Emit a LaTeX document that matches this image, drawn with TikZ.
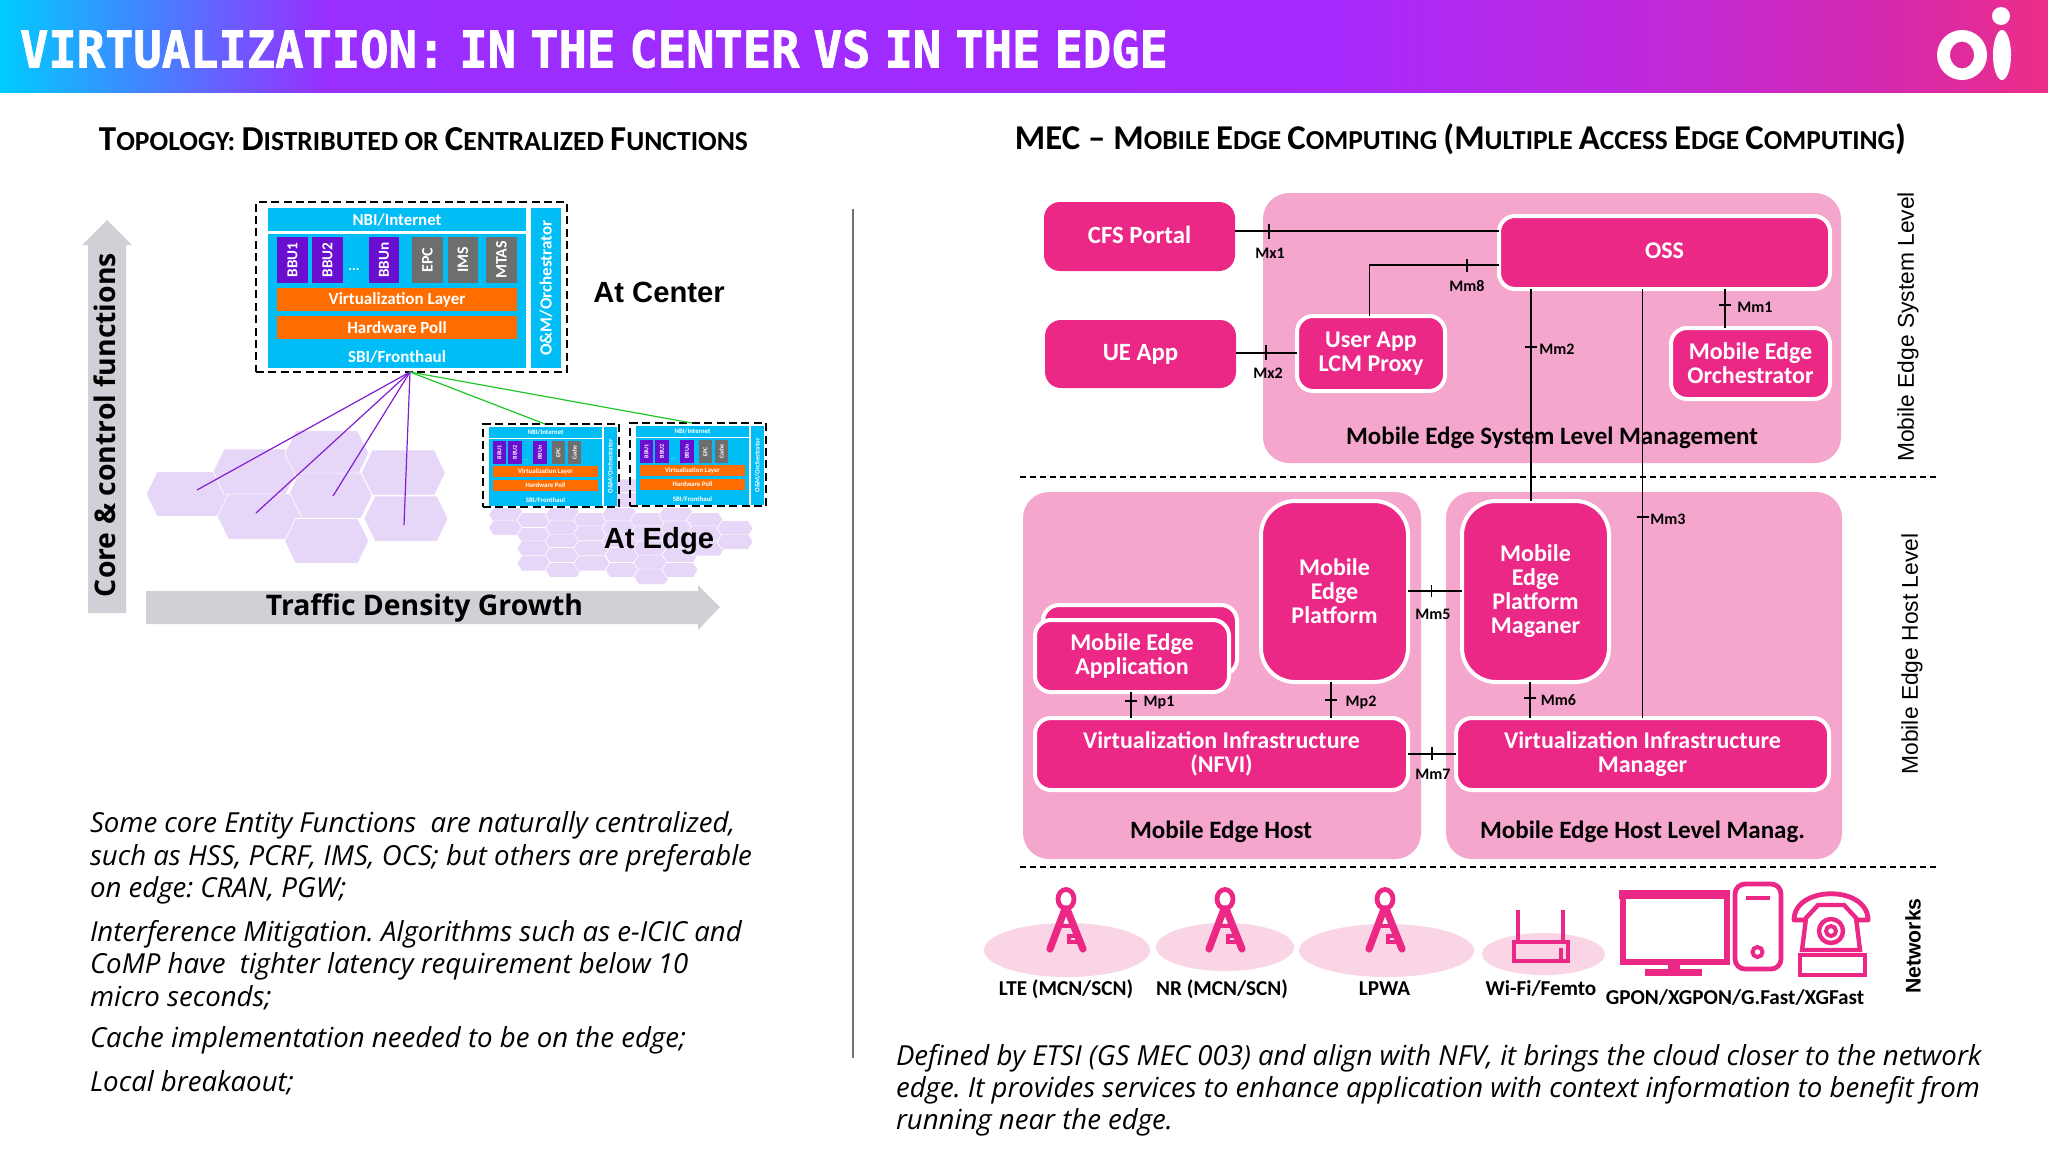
\documentclass[tikz,border=0pt]{standalone}
\usepackage{fontspec}
\usepackage{graphicx}
\setmainfont{Carlito}
\newfontfamily\arf{Liberation Sans}
\newfontfamily\osf{Open Sans}
\newfontfamily\ttl[BoldFeatures={FakeBold=1.6}]{DejaVu Sans Mono}
\usetikzlibrary{calc}
\frenchspacing
\definecolor{cyanb}{RGB}{0,190,245}
\definecolor{purb}{RGB}{106,15,208}
\definecolor{grayb}{RGB}{110,110,110}
\definecolor{orab}{RGB}{255,109,0}
\definecolor{hexc}{RGB}{230,214,248}
\definecolor{grarrow}{RGB}{208,208,214}
\definecolor{pinkb}{RGB}{236,40,135}
\definecolor{pinkp}{RGB}{245,166,204}
\definecolor{pinke}{RGB}{250,213,230}
\definecolor{lnpur}{RGB}{130,30,210}
\definecolor{lngrn}{RGB}{30,200,40}
\pgfdeclarehorizontalshading{hdr}{100bp}{rgb(0bp)=(0,0.80,1);rgb(25bp)=(0,0.80,1);rgb(28bp)=(0.22,0.56,1);rgb(33bp)=(0.60,0.18,1);rgb(57bp)=(0.65,0.16,1);rgb(65bp)=(0.74,0.16,0.86);rgb(71.5bp)=(0.84,0.16,0.67);rgb(75bp)=(0.93,0.18,0.53);rgb(100bp)=(0.93,0.18,0.53)}
\newcommand\pxf[2][1.0]{\fontsize{#2}{#1\dimexpr#2pt\relax}\selectfont}
\newcommand\rb[7]{\node[#6,minimum width={(#4-#2)*0.5pt},minimum height={(#5-#3)*0.5pt}] (#1) at ({(#2+#4)/2},{(#3+#5)/2}) {#7};}
\newcommand\hex[4]{\fill[hexc,draw=white,line width=0.3pt] ({#1-#3/2},#2)--({#1-#3/2+#3*0.13},{#2-#4/2})--({#1+#3/2-#3*0.13},{#2-#4/2})--({#1+#3/2},#2)--({#1+#3/2-#3*0.13},{#2+#4/2})--({#1-#3/2+#3*0.13},{#2+#4/2})--cycle;}
\newcommand\tickh[2]{\draw[lnk] (#1-6,#2)--(#1+6,#2);}
\newcommand\tickv[3]{\draw[lnk] (#1,#2)--(#1,#3);}
\newcommand\vtxt[1]{\rotatebox{90}{#1}}
\newcommand\tower[2]{\begin{scope}[shift={(#1,0)}]
 \draw[pinkb,line width=2.4pt] (0,899) ellipse [x radius=8,y radius=9.5];
 \draw[pinkb,line width=3.6pt,line cap=round,line join=round] (-16,949)--(-1,909)--(1,909)--(17,949);
 \draw[pinkb,line width=2pt] (-8,926)--(9,926);
 \draw[pinkb,line width=2pt,line cap=round] (12,936)--(3,936)--(3,942)--(13,942);
 \end{scope}}
\newcommand\edgebox[3]{\begin{scope}[shift={(#2,#3)}]
 \node[dashbox,minimum width=68pt,minimum height=41.5pt] (#1) at (551,465.5) {};
 \rb{#1nbi}{489}{427}{602}{438}{cyb,font=\pxf{3.4}\bfseries}{NBI/Internet}
 \rb{#1main}{489}{439}{602}{495}{cyb}{}
 \rb{#1sbi}{489}{495}{602}{506}{cyb,font=\pxf{3.4}\bfseries}{SBI/Fronthaul}
 \rb{#1om}{604}{427}{617}{506}{cyb,font=\pxf{3.4}\bfseries}{\vtxt{O\&M/Orchestrator}}
 \rb{#1b1}{493}{441}{506}{464}{pub,font=\pxf{3}\bfseries}{\vtxt{BBU1}}
 \rb{#1b2}{508}{441}{522}{464}{pub,font=\pxf{3}\bfseries}{\vtxt{BBU2}}
 \rb{#1bn}{533}{441}{547}{464}{pub,font=\pxf{3}\bfseries}{\vtxt{BBUn}}
 \rb{#1epc}{552}{441}{565}{464}{grb,font=\pxf{3}\bfseries}{\vtxt{EPC}}
 \rb{#1ca}{568}{441}{581}{464}{grb,font=\pxf{3}\bfseries}{\vtxt{Cache}}
 \rb{#1vl}{493}{466}{598}{477}{orb,font=\pxf{3.4}\bfseries}{Virtualization Layer}
 \rb{#1hp}{493}{480}{598}{491}{orb,font=\pxf{3.4}\bfseries}{Hardware Poll}
 \node[tb,text=cyanb!20!white,font=\pxf{3}] (#1dots) at (526,460) {...};
 \end{scope}}
\tikzset{
 tb/.style={inner sep=0pt,outer sep=0pt,align=center},
 cyb/.style={tb,fill=cyanb,text=white},
 pub/.style={tb,fill=purb,text=white},
 grb/.style={tb,fill=grayb,text=white},
 orb/.style={tb,fill=orab,text=white},
 dashbox/.style={tb,draw=black,line width=0.9pt,dash pattern=on 4pt off 2.2pt},
 panel/.style={tb,fill=pinkp,rounded corners=13pt},
 pcard/.style={tb,fill=pinkb,rounded corners=8pt,text=white,font=\pxf[1.0]{12}\bfseries},
 wcard/.style={pcard,draw=white,line width=2pt},
 tallcard/.style={wcard,rounded corners=17pt},
 tit/.style={tb,font=\pxf{12.5}\bfseries,text=black},
 lbl/.style={tb,font=\pxf{8}\bfseries,text=black},
 net/.style={tb,font=\pxf{10.6}\bfseries,text=black},
 side/.style={tb,font=\arf\pxf{11.4},text=black},
 lnk/.style={draw=black,line width=0.8pt},
 dsh/.style={draw=black,line width=0.8pt,dash pattern=on 3pt off 2pt},
 para/.style={tb,align=left,anchor=west,text=black,font=\osf\itshape\fontsize{13.8}{16.1}\selectfont},
 logo/.style={fill=white,draw=none},
}
\begin{document}
\begin{tikzpicture}[x=0.5pt,y=-0.5pt]
\useasboundingbox (0,0) rectangle (2048,1152);
\fill[white] (0,0) rectangle (2048,1152);
% header
\shade[shading=hdr] (0,0) rectangle (2048,92);
\node[tb,anchor=west,text=white] (title) at (20,49) {\resizebox{574pt}{18.7pt}{\ttl\bfseries VIRTUALIZATION:\hspace{0.3em}IN\hspace{0.3em}THE\hspace{0.3em}CENTER\hspace{0.3em}VS\hspace{0.3em}IN\hspace{0.3em}THE\hspace{0.3em}EDGE}};
% logo
\fill[white,even odd rule] (1962,55) ellipse [x radius=25,y radius=25] (1962,55) ellipse [x radius=12,y radius=13.5];
\fill[logo] (2002,55) ellipse [x radius=9,y radius=25];
\fill[logo] (2001,16) circle [radius=9];
% headings
\node[tb,text=black] (hleft) at (423.5,139) {\resizebox{324.5pt}{!}{\bfseries\pxf{16}T\pxf{12.6}OPOLOGY: \pxf{16}D\pxf{12.6}ISTRIBUTED OR \pxf{16}C\pxf{12.6}ENTRALIZED \pxf{16}F\pxf{12.6}UNCTIONS}};
\node[tb,text=black] (hright) at (1460.5,139) {\resizebox{445.5pt}{!}{\bfseries\pxf{16}MEC – M\pxf{12.6}OBILE \pxf{16}E\pxf{12.6}DGE \pxf{16}C\pxf{12.6}OMPUTING \pxf{16}(M\pxf{12.6}ULTIPLE \pxf{16}A\pxf{12.6}CCESS \pxf{16}E\pxf{12.6}DGE \pxf{16}C\pxf{12.6}OMPUTING\pxf{16})}};
% divider
\draw[black!55,line width=0.6pt] (853,209)--(853,1058);
% core arrow
\fill[grarrow] (107,220)--(132,245)--(126,245)--(126,613)--(88,613)--(88,245)--(82,245)--cycle;
\node[tb,text=black] (corel) at (105,425) {\resizebox{!}{172pt}{\vtxt{\osf\bfseries\pxf{16}Core \& control functions}}};
% traffic arrow
\fill[grarrow] (146,591)--(698,591)--(698,585)--(720,607)--(698,630)--(698,624)--(146,624)--cycle;
\node[tb,text=black] (trafl) at (424.5,608.5) {\resizebox{158.5pt}{!}{\osf\bfseries\pxf{16}Traffic Density Growth}};
% hexes
\foreach \x/\y in {355/912,555/845,770/790,1000/848,780/917,568/980,1008/986,770/1053}{\hex{70+\x/3}{190+\y/3}{84}{45}}
\foreach \x/\y in {490/260,490/300,140/345,140/383,225/360,225/405,225/445,225/490,310/345,310/385,310/425,310/465,310/510,395/360,395/400,395/445,395/490,480/345,480/385,480/425,490/465,490/510,565/360,565/400,575/445,575/488,575/530,650/345,655/385,660/425,660/465,660/510,735/360,735/400,740/445,825/385,825/425}{\hex{460+\x/3}{400+\y/3}{36}{15}}
% centre box
\rb{center}{256}{202}{567}{372}{dashbox}{}
\rb{cnbi}{268}{208}{526}{231}{cyb,font=\pxf{8.4}\bfseries}{NBI/Internet}
\rb{cmain}{268}{234}{526}{346}{cyb}{}
\rb{csbi}{268}{346}{526}{368}{cyb,font=\pxf{8.5}\bfseries}{SBI/Fronthaul}
\rb{com}{531}{208}{561}{368}{cyb,font=\pxf{8.5}\bfseries}{\vtxt{O\&M/Orchestrator}}
\rb{cb1}{277}{237}{308}{283}{pub,font=\pxf{7.6}\bfseries}{\vtxt{BBU1}}
\rb{cb2}{312}{237}{343}{283}{pub,font=\pxf{7.6}\bfseries}{\vtxt{BBU2}}
\rb{cbn}{369}{237}{399}{283}{pub,font=\pxf{7.6}\bfseries}{\vtxt{BBUn}}
\rb{cepc}{412}{237}{443}{283}{grb,font=\pxf{8}\bfseries}{\vtxt{EPC}}
\rb{cims}{448}{237}{478}{283}{grb,font=\pxf{8}\bfseries}{\vtxt{IMS}}
\rb{cmtas}{486}{237}{517}{283}{grb,font=\pxf{8}\bfseries}{\vtxt{MTAS}}
\rb{cvl}{277}{288}{517}{311}{orb,font=\pxf{8.5}\bfseries}{Virtualization Layer}
\rb{chp}{277}{316}{517}{339}{orb,font=\pxf{8.5}\bfseries}{Hardware Poll}
\node[tb,text=white,font=\pxf{7}\bfseries] (cdots) at (354,270) {...};
% edge boxes
\edgebox{ea}{0}{0}
\edgebox{eb}{147}{-1}
% connectors left
\coordinate (hub) at (center.south -| 410,0);
\coordinate (c1) at (197,490);
\coordinate (c2) at (256,513);
\coordinate (c3) at (333,496);
\coordinate (c4) at (404,525);
\foreach \c in {c1,c2,c3,c4}{\draw[lnpur,line width=0.6pt] (hub)--(\c);}
\draw[lngrn,line width=0.6pt] (hub)--(ea.north -| 545,0);
\draw[lngrn,line width=0.6pt] (hub)--(eb.north -| 692,0);
\node[tb,font=\arf\bfseries\pxf{14.6}] (atc) at (659,292) {At Center};
\node[tb,font=\arf\bfseries\pxf{14.6}] (ate) at (659,541) {At Edge};
% left paragraphs
\node[para] (p1) at (90,858) {Some core Entity Functions\ \ are naturally centralized,\\such as HSS, PCRF, IMS, OCS; but others are preferable\\on edge: CRAN, PGW;};
\node[para] (p2) at (90,965) {Interference Mitigation. Algorithms such as e-ICIC and\\CoMP have\ \ tighter latency requirement below 10\\micro seconds;};
\node[para] (p3) at (90,1040) {Cache implementation needed to be on the edge;};
\node[para] (p4) at (90,1083) {Local breakaout;};
\node[para] (p5) at (896,1090) {Defined by ETSI (GS MEC 003) and align with NFV, it brings the cloud closer to the network\\edge. It provides services to enhance application with context information to benefit from\\running near the edge.};
% panels
\rb{sys}{1263}{193}{1841}{463}{panel}{}
\rb{host}{1023}{492}{1421}{859}{panel}{}
\rb{hman}{1446}{492}{1842}{859}{panel}{}
% cards
\rb{cfs}{1044}{202}{1235}{271}{pcard}{\pxf{12.4}CFS Portal\vphantom{y}}
\rb{ue}{1045}{320}{1236}{388}{pcard}{\pxf{12.4}UE App}
\rb{oss}{1499}{216}{1830}{289}{wcard}{OSS\vphantom{y}}
\rb{uap}{1297}{316}{1445}{391}{wcard}{User App\\LCM Proxy}
\rb{meo}{1671}{328}{1830}{399}{wcard}{Mobile Edge\\Orchestrator}
\rb{mep}{1261}{501}{1408}{682}{tallcard}{Mobile\\Edge\\Platform}
\rb{mepm}{1462}{501}{1609}{682}{tallcard}{Mobile\\Edge\\Platform\\Maganer}
\rb{appb}{1043}{605}{1237}{675}{wcard}{}
\rb{app}{1035}{620}{1229}{692}{wcard}{Mobile Edge\\Application}
\rb{nfvi}{1035}{718}{1408}{790}{wcard}{Virtualization Infrastructure\\(NFVI)}
\rb{vim}{1456}{718}{1829}{790}{wcard}{Virtualization Infrastructure\\Manager}
% titles
\node[tit] (tsys) at (1552,438) {Mobile Edge System Level Management};
\node[tit] (thost) at (1221,832) {Mobile Edge Host};
\node[tit] (thman) at (1642.5,832) {Mobile Edge Host Level Manag.};
% connectors right
\draw[lnk,line width=1pt] (cfs.east |- 0,231)--(oss.west |- 0,231);
\draw[lnk] (uap.north -| 1369.5,0)--(1369.5,265)--(oss.west |- 0,265);
\draw[lnk,line width=1pt] (ue.east |- 0,353)--(uap.west |- 0,353);
\draw[lnk] (oss.south -| 1531,0)--(mepm.north -| 1531,0);
\draw[lnk] (oss.south -| 1642.5,0)--(vim.north -| 1642.5,0);
\draw[lnk] (oss.south -| 1725,0)--(meo.north -| 1725,0);
\draw[lnk,line width=1pt] (mep.east |- 0,591)--(mepm.west |- 0,591);
\draw[lnk,line width=1pt] (nfvi.east |- 0,754)--(vim.west |- 0,754);
\draw[lnk,line width=1pt] (app.south -| 1131,0)--(nfvi.north -| 1131,0);
\draw[lnk] (mep.south -| 1331,0)--(nfvi.north -| 1331,0);
\draw[lnk] (mepm.south -| 1530,0)--(vim.north -| 1530,0);
% ticks
\tickv{1269}{224}{239}\tickv{1467}{259}{272}\tickv{1266}{345}{360}\tickv{1431.5}{585}{597}\tickv{1432}{747}{760}
\tickh{1531}{347}\tickh{1725}{305}\tickh{1642.5}{517}\tickh{1131}{701}\tickh{1331}{700}\tickh{1530}{698}
% interface labels
\node[lbl] (lmx1) at (1270,253) {Mx1};
\node[lbl] (lmm8) at (1467,286) {Mm8};
\node[lbl] (lmx2) at (1268,373) {Mx2};
\node[lbl] (lmm2) at (1557,349) {Mm2};
\node[lbl] (lmm1) at (1755,307) {Mm1};
\node[lbl] (lmm3) at (1668,519) {Mm3};
\node[lbl] (lmm5) at (1433,614) {Mm5};
\node[lbl] (lmm7) at (1433,774) {Mm7};
\node[lbl] (lmp1) at (1159,703) {Mp1};
\node[lbl] (lmp2) at (1361,702) {Mp2};
\node[lbl] (lmm6) at (1558.5,700) {Mm6};
% dashed separators
\coordinate (d1a) at (1020,477); \coordinate (d1b) at (1937,477);
\coordinate (d2a) at (1020,867); \coordinate (d2b) at (1937,867);
\draw[dsh] (d1a)--(d1b);
\draw[dsh] (d2a)--(d2b);
% side labels
\node[side] (s1) at (1908,327) {\vtxt{Mobile Edge System Level}};
\node[side] (s2) at (1912,654) {\vtxt{Mobile Edge Host Level}};
\node[side,font=\arf\bfseries\pxf{10.6}] (s3) at (1913,946) {\vtxt{Networks}};
% networks
\fill[pinke] (1067,950) ellipse [x radius=83,y radius=27];
\fill[pinke] (1225,947) ellipse [x radius=69,y radius=24];
\fill[pinke] (1386.5,950.5) ellipse [x radius=87.5,y radius=26.5];
\fill[pinke] (1543.5,954) ellipse [x radius=61.5,y radius=21];
\tower{1066}{0}\tower{1225}{0}\tower{1385}{0}
% router
\draw[pinkb,line width=1.8pt] (1518,910)--(1518,942) (1563,910)--(1563,942);
\draw[pinkb,line width=1.8pt,fill=pinke] (1514,942) rectangle (1568,961);
\draw[pinkb,line width=2.2pt] (1561,948)--(1561,961);
% monitor
\draw[pinkb,line width=3pt] (1623,894) rectangle (1727,962);
\fill[pinkb] (1619,890) rectangle (1730,899);
\fill[pinkb] (1668,965) rectangle (1680,971);
\fill[pinkb] (1645,969) rectangle (1702,976);
% pc tower
\draw[pinkb,line width=2.4pt,fill=white,rounded corners=5pt] (1735,884) rectangle (1781,969);
\draw[pinkb,line width=2pt] (1746,898)--(1770,898);
\draw[pinkb,line width=2pt] (1757.5,952) circle [radius=5];
% phone
\draw[pinkb,line width=2.4pt,fill=white,line join=round] (1794,920) .. controls (1794,885) and (1868,885) .. (1868,920) -- (1857,920) .. controls (1850,908) and (1812,908) .. (1805,920) -- cycle;
\draw[pinkb,line width=2.2pt,fill=white] (1806,918) -- (1818,905) -- (1844,905) -- (1856,918) -- (1860,950) -- (1802,950) -- cycle;
\draw[pinkb,line width=2.2pt] (1831,931) circle [radius=12];
\draw[pinkb,line width=2pt] (1831,931) circle [radius=5];
\draw[pinkb,line width=2.4pt] (1800,955) rectangle (1865,975);
\fill[white] (1804,958) rectangle (1861,972);
% network labels
\node[net] (n1) at (1066,989) {LTE (MCN/SCN)};
\node[net] (n2) at (1222,989) {NR (MCN/SCN)};
\node[net] (n3) at (1384.5,989) {LPWA};
\node[net] (n4) at (1541,989) {Wi-Fi/Femto};
\node[net] (n5) at (1735,998) {GPON/XGPON/G.Fast/XGFast};
\end{tikzpicture}
\end{document}
